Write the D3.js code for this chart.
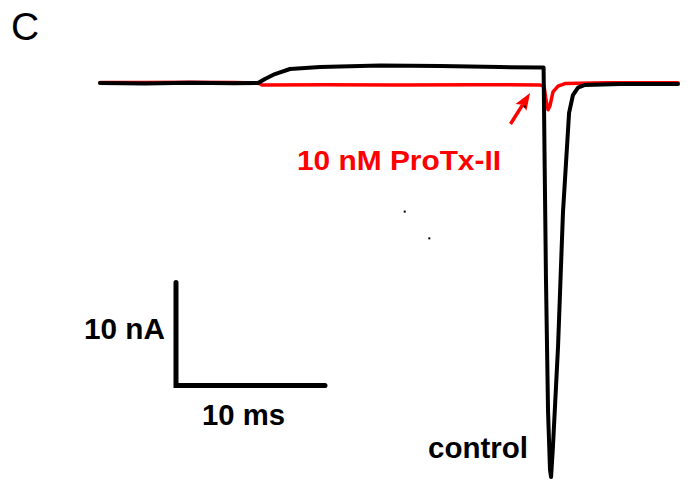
<!DOCTYPE html>
<html>
<head>
<meta charset="utf-8">
<script src="https://cdn.jsdelivr.net/npm/d3@7"></script>
<style>
  html, body { margin: 0; padding: 0; background: #fff; }
  svg { display: block; }
  text { font-family: "Liberation Sans", Arial, sans-serif; }
</style>
</head>
<body>
<svg id="chart" width="690" height="485"></svg>
<script>
// Whole-cell current traces (time in ms, current in nA; outward positive)
const controlTime = [0, 3, 6, 9, 10.6, 11.07, 11.74, 12.75, 14.77, 18.79, 22.82, 26.85, 29.6, 29.77,
  29.83, 29.93, 30.07, 30.2, 30.27, 30.4, 30.74, 31.07, 31.34, 31.48, 31.74, 32.08, 32.55, 34.9, 38.79];
const controlCurrent = [0, -0.05, 0.02, -0.03, 0, 0.39, 0.87, 1.36, 1.55, 1.7, 1.65, 1.55, 1.5, 1.5,
  -6.5, -19.1, -32.0, -37.6, -38.3, -35.3, -25.6, -12.6, -6.2, -2.9, -1.17, -0.44, -0.19, -0.1, -0.1];

const toxinTime = [0, 3, 6, 9, 10.6, 10.87, 15, 20, 25, 29.53, 29.8, 29.93, 30.07, 30.2, 30.4, 30.74,
  31.2, 34, 38.79];
const toxinCurrent = [0.05, 0.05, 0.08, 0.05, 0, -0.19, -0.17, -0.2, -0.17, -0.19, -0.3, -1.65, -2.6,
  -2.2, -0.87, -0.3, -0.05, 0.02, 0.03];

// Scale bar: 10 ms by 10 nA
const scaleBarTime = [5.1, 15.1];
const scaleBarCurrent = [-29.4, -19.4];

// Labels
const panelLabel = "C";
const toxinLabel = "10 nM ProTx-II";
const controlLabel = "control";
const currentBarLabel = "10 nA";
const timeBarLabel = "10 ms";

// Arrow pointing at the toxin trace (ms, nA)
const arrowFrom = [27.55, -3.98];
const arrowTo = [28.86, -0.97];

// Stray specks on the record (ms, nA)
const specks = [[20.45, -12.5], [22.1, -15.1], [28.5, -2.3]];

const svg = d3.select("#chart");

const x = d3.scaleLinear().domain([0, 38.79]).range([100, 678]);
const y = d3.scaleLinear().domain([0, -38.3]).range([83, 477]);

const line = d3.line().x(d => x(d[0])).y(d => y(d[1]));

svg.append("path")
  .datum(d3.zip(toxinTime, toxinCurrent))
  .attr("d", line)
  .attr("fill", "none")
  .attr("stroke", "#ff0000")
  .attr("stroke-width", 3.5)
  .attr("stroke-linejoin", "round")
  .attr("stroke-linecap", "round");

svg.append("path")
  .datum(d3.zip(controlTime, controlCurrent))
  .attr("d", line)
  .attr("fill", "none")
  .attr("stroke", "#000")
  .attr("stroke-width", 4)
  .attr("stroke-linejoin", "round")
  .attr("stroke-linecap", "round");

// Arrow: shaft plus a filled head built in pixel space along the shaft direction
const ax0 = x(arrowFrom[0]), ay0 = y(arrowFrom[1]);
const ax1 = x(arrowTo[0]), ay1 = y(arrowTo[1]);
const len = Math.hypot(ax1 - ax0, ay1 - ay0);
const ux = (ax1 - ax0) / len, uy = (ay1 - ay0) / len;
const headLen = 17, headHalf = 6.5;
const bx = ax1 - ux * headLen, by = ay1 - uy * headLen;

svg.append("line")
  .attr("x1", ax0).attr("y1", ay0)
  .attr("x2", bx + ux * 3).attr("y2", by + uy * 3)
  .attr("stroke", "#ff0000")
  .attr("stroke-width", 3.5);

svg.append("path")
  .attr("d", `M${ax1},${ay1}` +
             `L${bx - uy * headHalf},${by + ux * headHalf}` +
             `L${bx + ux * 3},${by + uy * 3}` +
             `L${bx + uy * headHalf},${by - ux * headHalf}Z`)
  .attr("fill", "#ff0000");

svg.selectAll("rect.speck")
  .data(specks)
  .enter().append("rect")
  .attr("class", "speck")
  .attr("x", d => x(d[0]) - 1).attr("y", d => y(d[1]) - 1)
  .attr("width", 2).attr("height", 2)
  .attr("fill", "#000");

// Scale bar
const bar = svg.append("g")
  .attr("fill", "none")
  .attr("stroke", "#000")
  .attr("stroke-width", 5)
  .attr("stroke-linecap", "round")
  .attr("stroke-linejoin", "miter");
bar.append("path")
  .attr("d", `M${x(scaleBarTime[0])},${y(scaleBarCurrent[1])}` +
             `L${x(scaleBarTime[0])},${y(scaleBarCurrent[0])}` +
             `L${x(scaleBarTime[1])},${y(scaleBarCurrent[0])}`);

// Text
svg.append("text")
  .attr("x", 11).attr("y", 40)
  .attr("font-size", 39)
  .attr("fill", "#000")
  .text(panelLabel);

svg.append("text")
  .attr("x", 297).attr("y", 170)
  .attr("font-size", 28).attr("font-weight", "bold")
  .attr("fill", "#ff0000")
  .attr("textLength", 204).attr("lengthAdjust", "spacingAndGlyphs")
  .text(toxinLabel);

svg.append("text")
  .attr("x", 165).attr("y", 339)
  .attr("text-anchor", "end")
  .attr("font-size", 29).attr("font-weight", "bold")
  .attr("fill", "#000")
  .attr("textLength", 81).attr("lengthAdjust", "spacingAndGlyphs")
  .text(currentBarLabel);

svg.append("text")
  .attr("x", 202).attr("y", 425)
  .attr("font-size", 29).attr("font-weight", "bold")
  .attr("fill", "#000")
  .attr("textLength", 83).attr("lengthAdjust", "spacingAndGlyphs")
  .text(timeBarLabel);

svg.append("text")
  .attr("x", 428).attr("y", 458)
  .attr("font-size", 29).attr("font-weight", "bold")
  .attr("fill", "#000")
  .attr("textLength", 100).attr("lengthAdjust", "spacingAndGlyphs")
  .text(controlLabel);
</script>
</body>
</html>
